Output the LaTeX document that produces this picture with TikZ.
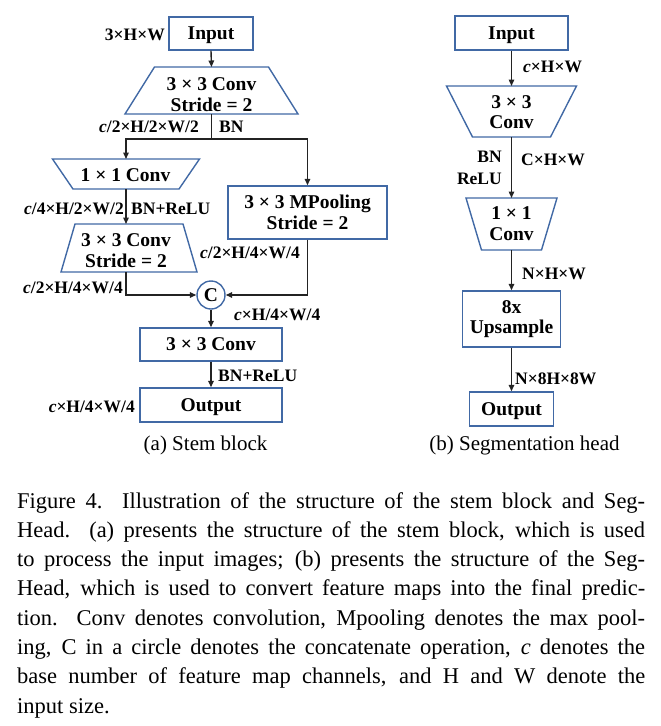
\documentclass[tikz,border=0pt]{standalone}
\usepackage{fontspec}
\setmainfont{Liberation Serif}
\usetikzlibrary{arrows.meta,calc}
\definecolor{boxblue}{RGB}{65,105,165}
\definecolor{arrc}{RGB}{35,35,35}
\newcommand\boxfont{\bfseries\fontsize{19.5}{20.5}\selectfont}
\newcommand\lblfont{\bfseries\fontsize{17.5}{22}\selectfont}
\begin{document}
\begin{tikzpicture}[x=1pt,y=-1pt,
  box/.style={draw=boxblue, line width=1.4pt, inner sep=0pt, font=\boxfont, align=center, text=black},
  nodepth/.style={text depth=0pt},
  tzg/.style={inner sep=0pt, outer sep=0pt},
  tz/.style={draw=boxblue, line width=1.4pt, line join=miter},
  txt/.style={font=\boxfont, align=center, inner sep=0pt},
  lbl/.style={font=\lblfont, inner sep=0pt, text=black},
  arr/.style={draw=arrc, line width=1.4pt, -{Triangle[length=6.5pt,width=5.5pt]}},
  ln/.style={draw=arrc, line width=1.4pt},
  subcap/.style={font=\fontsize{21}{24}\selectfont, inner sep=0pt}]
\useasboundingbox (0,0) rectangle (661,726);

% ---------------- (a) Stem block ----------------
\node[box, nodepth, minimum width=84pt, minimum height=33pt] (in1) at (211,33.5) {Input};
\node[lbl, anchor=east] (lin1) at (165,35) {3×H×W};

\node[tzg, minimum width=173pt, minimum height=47pt] (conv1) at (211.5,90.5) {};
\draw[tz] ([xshift=29.5pt]conv1.north west) -- ([xshift=-29.5pt]conv1.north east) -- (conv1.south east) -- (conv1.south west) -- cycle;
\node[txt] (conv1t) at (211.5,94.5) {3 × 3 Conv\\Stride = 2};

\coordinate (split) at (211.5,139);
\node[lbl, anchor=east] (lsa) at (199,127) {\textit{c}/2×H/2×W/2};
\node[lbl, anchor=west] (lsb) at (219,127) {BN};

\node[tzg, minimum width=147pt, minimum height=30pt] (conv2) at (126,174) {};
\draw[tz] (conv2.north west) -- (conv2.north east) -- ([xshift=-20.5pt]conv2.south east) -- ([xshift=20.5pt]conv2.south west) -- cycle;
\node[txt] (conv2t) at (125.5,175) {1 × 1 Conv};

\node[lbl, anchor=east] (l2a) at (124,209) {\textit{c}/4×H/2×W/2};
\node[lbl, anchor=west] (l2b) at (131,209) {BN+ReLU};

\node[tzg, minimum width=136pt, minimum height=48pt] (conv3) at (129,248) {};
\draw[tz] ([xshift=14pt]conv3.north west) -- ([xshift=-14pt]conv3.north east) -- (conv3.south east) -- (conv3.south west) -- cycle;
\node[txt] (conv3t) at (126,250.5) {3 × 3 Conv\\Stride = 2};
\node[lbl, anchor=east] (l3) at (123,288) {\textit{c}/2×H/4×W/4};

\node[box, minimum width=159pt, minimum height=53pt] (mpool) at (307.5,212.5) {3 × 3 MPooling\\Stride = 2};
\node[lbl, anchor=east] (lmp) at (300,253) {\textit{c}/2×H/4×W/4};

\node[circle, draw=boxblue, line width=1.4pt, minimum size=28pt, inner sep=0pt, font=\boxfont] (cat) at (211,295) {C};
\node[lbl, anchor=west] (lcat) at (234,315) {\textit{c}×H/4×W/4};

\node[box, minimum width=142pt, minimum height=33pt] (conv4) at (211,344.5) {3 × 3 Conv};
\node[lbl, anchor=west] (l4) at (218,376) {BN+ReLU};
\node[box, nodepth, minimum width=142pt, minimum height=34pt] (out1) at (211,405) {Output};
\node[lbl, anchor=east] (lout1) at (135,407) {\textit{c}×H/4×W/4};

\draw[arr] (in1.south) -- (conv1.north);
\draw[ln] (conv1.south) -- (split);
\draw[arr] (split) -| (conv2.north);
\draw[arr] (split) -| (mpool.north);
\draw[arr] (conv2.south) -- (conv2.south |- conv3.north);
\draw[arr] (conv2.south |- conv3.south) |- (cat.west);
\draw[arr] (mpool.south) |- (cat.east);
\draw[arr] (cat.south) -- (conv4.north);
\draw[arr] (conv4.south) -- (out1.north);

\node[subcap] (suba) at (205.5,445) {(a) Stem block};

% ---------------- (b) Segmentation head ----------------
\node[box, nodepth, minimum width=113pt, minimum height=34pt] (in2) at (511.5,33) {Input};
\node[lbl, anchor=west] (lin2) at (523,67) {\textit{c}×H×W};

\node[tzg, minimum width=130pt, minimum height=51pt] (sconv1) at (511.5,111.5) {};
\draw[tz] (sconv1.north west) -- (sconv1.north east) -- ([xshift=-26pt]sconv1.south east) -- ([xshift=26pt]sconv1.south west) -- cycle;
\node[txt] (sconv1t) at (511.5,112) {3 × 3\\Conv};

\node[lbl, anchor=east, align=right] (lbn) at (502,168) {BN\\ReLU};
\node[lbl, anchor=west] (lchw) at (521,160) {C×H×W};

\node[tzg, minimum width=91pt, minimum height=52pt] (sconv2) at (511.5,224) {};
\draw[tz] (sconv2.north west) -- (sconv2.north east) -- ([xshift=-15.5pt]sconv2.south east) -- ([xshift=15.5pt]sconv2.south west) -- cycle;
\node[txt] (sconv2t) at (511.5,223.5) {1 × 1\\Conv};

\node[lbl, anchor=west] (lnhw) at (522,274) {N×H×W};
\node[box, minimum width=98pt, minimum height=56pt] (ups) at (511.5,319) {8x\\Upsample};
\node[lbl, anchor=west] (l8) at (515,379) {N×8H×8W};
\node[box, nodepth, minimum width=84pt, minimum height=34pt] (out2) at (511.5,409) {Output};

\draw[arr] (in2.south) -- (sconv1.north);
\draw[arr] (sconv1.south) -- (sconv2.north);
\draw[arr] (sconv2.south) -- (ups.north);
\draw[arr] (ups.south) -- (out2.north);

\node[subcap] (subb) at (524.5,445) {(b) Segmentation head};

% ---------------- caption ----------------
\node[anchor=north west, text width=628pt, align=justify, inner sep=0pt,
      font=\fontsize{22.5}{29.3}\selectfont] (cap) at (17,492)
{Figure 4.  Illustration of the structure of the stem block and Seg-\linebreak
Head.  (a) presents the structure of the stem block, which is used\linebreak
to process the input images; (b) presents the structure of the Seg-\linebreak
Head, which is used to convert feature maps into the final predic-\linebreak
tion.  Conv denotes convolution, Mpooling denotes the max pool-\linebreak
ing, C in a circle denotes the concatenate operation, \textit{c} denotes the\linebreak
base number of feature map channels, and H and W denote the\linebreak
input size.};
\end{tikzpicture}
\end{document}
